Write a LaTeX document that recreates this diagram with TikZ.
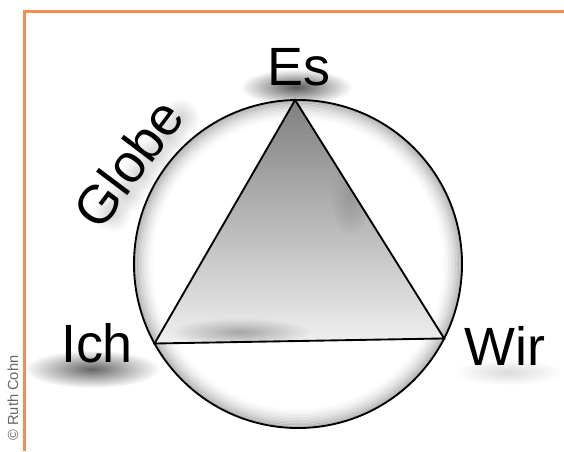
\documentclass[tikz,border=0pt]{standalone}
\usepackage{fontspec}
\setmainfont{Liberation Sans}
\usetikzlibrary{fadings}
\tikzfading[name=weich, inner color=transparent!0, outer color=transparent!100]
\definecolor{rahmen}{RGB}{241,142,82}
\begin{document}
\begin{tikzpicture}[x=0.03cm, y=-0.03cm,
  every node/.style={font=\fontsize{46}{50}\selectfont, inner sep=0pt, outer sep=0pt},
  kreis/.style={circle, draw=black, line width=1.6pt, minimum size=9.84cm},
  schatten/.style={path fading=weich},
  dreieck/.style={draw=black, line width=1.6pt, line join=miter}
]
\useasboundingbox (0,0) rectangle (564,451);

% Rahmen
\draw[rahmen, line width=2pt] (24.5,451) -- (24.5,11.5) -- (564,11.5);

% Copyright
\node[font=\fontsize{12.5}{14}\selectfont, text=black!60, rotate=90] (copy) at (13,398) {\textcopyright{} Ruth Cohn};

% Schatten der Beschriftungen
\fill[schatten, black!65] (296,87) ellipse [x radius=56, y radius=18];
\fill[schatten, black!60] (92,369) ellipse [x radius=68, y radius=19];
\fill[schatten, black!14] (508,372) ellipse [x radius=55, y radius=13];
\foreach \px/\py in {112/212, 126/193, 140/174, 154/155, 168/136, 180/118} {
  \fill[schatten, black!18] (\px,\py) circle [radius=20];
}

% Globus mit Innenschatten
\coordinate (mitte) at (298,264);
\foreach \i in {1,...,14} {
  \pgfmathsetmacro\grau{32*(1-\i/14)^1.6}
  \draw[black!\grau, line width=1.3pt] (mitte) circle [radius=164-1.5*\i];
}
\node[kreis] (globus) at (mitte) {};

% Dreieck
\coordinate (es-ecke) at (globus.91);
\coordinate (ich-ecke) at (globus.209);
\coordinate (wir-ecke) at (globus.333);
\shade[top color=black!50, middle color=black!15, bottom color=black!6] (es-ecke) -- (ich-ecke) -- (wir-ecke) -- cycle;
\begin{scope}
  \clip (es-ecke) -- (ich-ecke) -- (wir-ecke) -- cycle;
  \fill[schatten, black!40] (350,196) ellipse [x radius=20, y radius=40];
  \fill[schatten, black!35] (240,332) ellipse [x radius=70, y radius=14];
\end{scope}
\draw[dreieck] (es-ecke) -- (ich-ecke) -- (wir-ecke) -- cycle;

% Beschriftungen
\node (es) at (299,67) {Es};
\node (ich) at (97,343) {Ich};
\node (wir) at (505,346) {Wir};
\node[rotate=53] (globe) at (128,163) {Globe};
\end{tikzpicture}
\end{document}
